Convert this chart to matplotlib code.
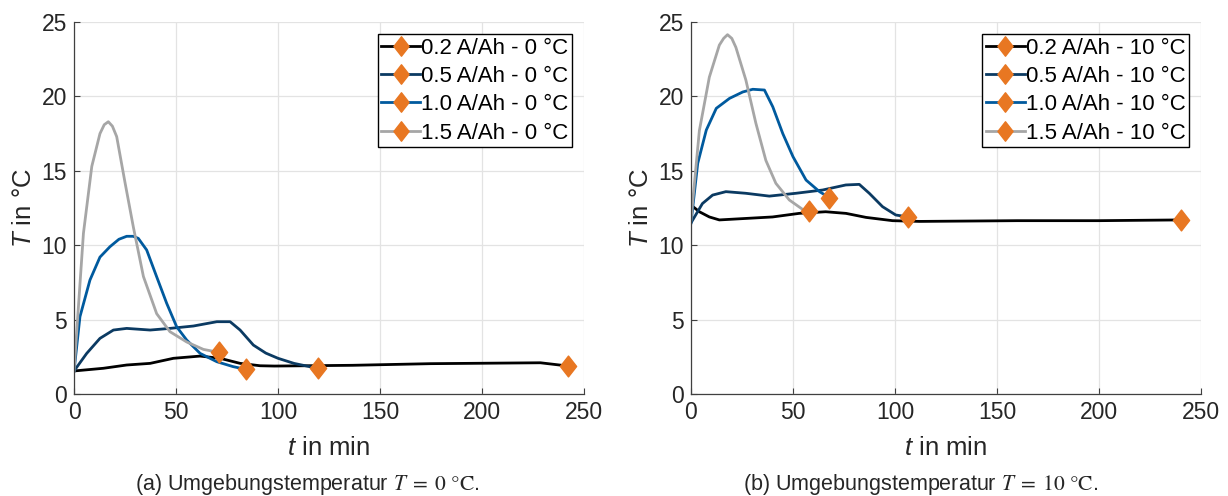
import matplotlib
matplotlib.use("Agg")
import matplotlib.pyplot as plt
from matplotlib.path import Path

plt.rcParams['font.family'] = ['Liberation Sans', 'DejaVu Sans']
plt.rcParams['mathtext.fontset'] = 'custom'
plt.rcParams['mathtext.it'] = 'Liberation Sans:italic'
plt.rcParams['mathtext.rm'] = 'Liberation Sans'

# ---- data, panel (a): ambient 0 degC ----
t_a_02 = [0, 14.4, 25.8, 37.3, 48.7, 61.8, 71.6, 81.4, 91.2, 98.2, 136.5, 174.8, 228.6, 242.3]
T_a_02 = [1.55, 1.73, 1.95, 2.06, 2.4, 2.55, 2.4, 2.06, 1.9, 1.88, 1.93, 2.04, 2.1, 1.88]
t_a_05 = [0, 6.2, 12.7, 19.3, 25.8, 37.3, 47.0, 58.5, 70.0, 76.5, 81.4, 87.9, 94.0, 100.0, 107.8, 119.6]
T_a_05 = [1.55, 2.73, 3.74, 4.3, 4.41, 4.3, 4.41, 4.57, 4.86, 4.86, 4.3, 3.29, 2.75, 2.4, 2.06, 1.72]
t_a_10 = [0, 2.9, 7.8, 12.7, 17.6, 22.0, 25.8, 29.0, 31.5, 35.6, 40.5, 45.4, 50.3, 55.2, 61.8, 70.0, 78.0, 84.1]
T_a_10 = [1.55, 5.2, 7.66, 9.2, 9.9, 10.4, 10.6, 10.6, 10.46, 9.68, 7.88, 6.1, 4.52, 3.63, 2.73, 2.17, 1.84, 1.66]
t_a_15 = [0, 4.6, 8.7, 12.7, 14.8, 16.8, 18.8, 20.9, 25.0, 29.1, 34.0, 40.5, 47.0, 55.2, 63.4, 70.9]
T_a_15 = [1.55, 10.8, 15.3, 17.5, 18.1, 18.3, 18.0, 17.3, 14.2, 11.2, 7.9, 5.4, 4.19, 3.5, 3.0, 2.8]

# ---- data, panel (b): ambient 10 degC ----
t_b_02 = [0, 4.1, 9.0, 13.9, 26.9, 40.0, 53.0, 66.0, 76.0, 85.8, 98.8, 112.0, 160.0, 200.0, 240.0]
T_b_02 = [12.7, 12.25, 11.9, 11.7, 11.8, 11.9, 12.14, 12.25, 12.14, 11.87, 11.65, 11.6, 11.65, 11.65, 11.7]
t_b_05 = [0, 5.6, 10.6, 17.1, 26.9, 38.4, 51.4, 64.5, 75.9, 82.5, 87.4, 93.9, 100.4, 106.6]
T_b_05 = [11.5, 12.8, 13.37, 13.6, 13.49, 13.3, 13.49, 13.71, 14.05, 14.09, 13.49, 12.59, 12.03, 11.9]
t_b_10 = [0, 3.3, 7.5, 12.4, 18.9, 25.4, 30.3, 36.0, 40.1, 45.0, 50.0, 56.4, 63.0, 67.8]
T_b_10 = [11.5, 15.5, 17.74, 19.2, 19.87, 20.3, 20.48, 20.43, 19.3, 17.5, 15.95, 14.38, 13.6, 13.2]
t_b_15 = [0, 4.1, 9.0, 13.9, 16.0, 17.9, 20.0, 22.0, 26.9, 31.8, 36.7, 41.6, 48.2, 54.7, 58.0]
T_b_15 = [11.7, 17.7, 21.3, 23.45, 23.9, 24.15, 23.9, 23.3, 21.1, 18.2, 15.7, 14.16, 13.04, 12.41, 12.3]

rates = ['0.2', '0.5', '1.0', '1.5']
colors = ['#000000', '#0b3a62', '#005a9e', '#a6a6a6']
marker_color = '#e87722'

x_ticks = [0, 50, 100, 150, 200, 250]
y_ticks = [0, 5, 10, 15, 20, 25]

# MATLAB-like diamond (a bit wider than matplotlib's 'd')
diamond = Path([(0, 1), (0.78, 0), (0, -1), (-0.78, 0), (0, 1)],
               [Path.MOVETO, Path.LINETO, Path.LINETO, Path.LINETO, Path.CLOSEPOLY])

fig = plt.figure(figsize=(12.28, 4.96), dpi=100)
ax_a = fig.add_axes([0.0603, 0.2056, 0.4153, 0.75])
ax_b = fig.add_axes([0.5627, 0.2056, 0.4153, 0.75])


def draw_panel(ax, series, amb, caption, cx):
    for (t, T), rate, c in zip(series, rates, colors):
        ax.plot(t, T, color=c, lw=2.0, zorder=3, solid_joinstyle='round')
        ax.plot([t[-1]], [T[-1]], ls='none', marker=diamond, ms=15,
                color=marker_color, mec=marker_color, zorder=4)
        # legend proxy: line with diamond in the middle
        ax.plot([], [], color=c, lw=2.0, marker=diamond, ms=14,
                mfc=marker_color, mec=marker_color,
                label=f'{rate} A/Ah - {amb} °C')
    ax.set_xlim(0, 250)
    ax.set_ylim(0, 25)
    ax.set_xticks(x_ticks)
    ax.set_yticks(y_ticks)
    ax.grid(True, color='#e3e3e3', lw=0.9)
    ax.set_axisbelow(True)
    for s in ['top', 'right']:
        ax.spines[s].set_visible(False)
    for s in ['left', 'bottom']:
        ax.spines[s].set_color('#404040')
        ax.spines[s].set_linewidth(0.9)
        ax.spines[s].set_zorder(5)
    ax.tick_params(direction='in', length=4, width=0.8, color='#404040',
                   labelsize=16.5, labelcolor='#262626', pad=5)
    ax.set_xlabel('$t$ in min', fontsize=18.5, color='#262626', labelpad=9)
    ax.set_ylabel('$T$ in °C', fontsize=18.5, color='#262626', labelpad=4)
    leg = ax.legend(loc='upper right', fontsize=16, frameon=True, fancybox=False,
                    edgecolor='#000000', framealpha=1, borderpad=0.15,
                    labelspacing=0.33, handlelength=1.75, handletextpad=0.05,
                    borderaxespad=0.55, numpoints=1)
    leg.get_frame().set_linewidth(1.0)
    fig.text(cx, 0.024, caption, ha='center', va='center', fontsize=15.5,
             color='#262626', math_fontfamily='stix')


series_a = [(t_a_02, T_a_02), (t_a_05, T_a_05), (t_a_10, T_a_10), (t_a_15, T_a_15)]
series_b = [(t_b_02, T_b_02), (t_b_05, T_b_05), (t_b_10, T_b_10), (t_b_15, T_b_15)]

draw_panel(ax_a, series_a, '0', r'(a) Umgebungstemperatur $T\;=\;0\ \mathrm{°C}$.', 0.25)
draw_panel(ax_b, series_b, '10', r'(b) Umgebungstemperatur $T\;=\;10\ \mathrm{°C}$.', 0.75)

fig.savefig('out.png', dpi=100)
